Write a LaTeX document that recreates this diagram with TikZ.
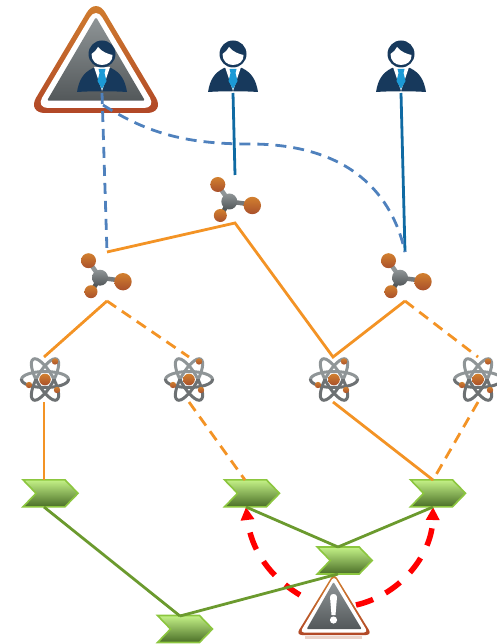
\documentclass[tikz,border=0pt]{standalone}
\usetikzlibrary{shapes.symbols,arrows.meta}
\definecolor{navy}{HTML}{17395C}
\definecolor{tieblue}{HTML}{1C9AD6}
\definecolor{linkblue}{HTML}{0F6AA3}
\definecolor{dashblue}{HTML}{4F81BD}
\definecolor{amber}{HTML}{F39325}
\definecolor{leaf}{HTML}{6B9A2E}
\definecolor{leafedge}{HTML}{8CC63F}
\definecolor{leaftop}{HTML}{C4F287}
\definecolor{leaflow}{HTML}{4A6E27}
\definecolor{ballhi}{HTML}{D2802F}
\definecolor{balllo}{HTML}{A9502B}
\definecolor{greyhi}{HTML}{8F9597}
\definecolor{greylo}{HTML}{53585A}
\tikzset{
  chev/.style={shape=signal,signal to=east,signal from=west,signal pointer angle=92,
    minimum width=55pt,minimum height=27pt,inner sep=0pt,draw=leafedge,line width=1.6pt,
    top color=leaftop,bottom color=leaflow},
  wire/.style={line width=2.8pt},
  amberline/.style={wire,amber},
  amberdash/.style={wire,amber,dash pattern=on 11pt off 7pt},
  bluedash/.style={wire,dashblue,dash pattern=on 11pt off 7pt},
  blueline/.style={wire,linkblue},
  leafline/.style={wire,leaf},
  redarrow/.style={red,line width=5.5pt,dash pattern=on 18pt off 14pt,-{Triangle[length=13pt,width=13pt]}},
  ball/.style={top color=ballhi,bottom color=balllo,draw=none},
  personicon/.pic={
    \fill[navy] (-25,-1) .. controls (-23,-13) and (-19,-20) .. (-9,-25) -- (9,-25)
       .. controls (19,-20) and (23,-13) .. (25,-1) .. controls (10,-2) and (-10,-2) .. (-25,-1) -- cycle;
    \fill[white] (-8,-26) -- (0,-2) -- (8,-26) -- cycle;
    \fill[tieblue] (-3.5,-24) -- (3.5,-24) -- (2.5,-20) -- (4.5,-12) -- (0,-4) -- (-4.5,-12) -- (-2.5,-20) -- cycle;
    \fill[navy] (0,-39) circle[radius=13.5];
    \fill[white] (-10.5,-39) .. controls (-8,-41) and (-5,-43) .. (-4,-46)
       .. controls (0,-41) and (6,-39) .. (10.5,-38)
       .. controls (11,-32) and (6,-28) .. (0,-28) .. controls (-6,-28) and (-10.5,-32) .. (-10.5,-39) -- cycle;
  },
  hubicon/.pic={
    \draw[line width=4.5pt,greyhi] (0,0) -- (-11,-16);
    \draw[line width=4.5pt,greylo] (0,0) -- (-8,13);
    \draw[line width=4.5pt,greylo!80!white] (0,0) -- (22,3);
    \shade[top color=greyhi,bottom color=greylo] (0,0) circle[radius=8];
    \shade[ball] (-11.5,-17) circle[radius=7.5];
    \shade[ball] (23,4) circle[radius=8.7];
    \shade[ball] (-9,14) circle[radius=6.5];
  },
  atomicon/.pic={
    \begin{scope}
      \clip (-30,-30) rectangle (30,0);
      \foreach \a in {0,60,-60}
        \draw[greyhi,line width=3pt,rotate=\a] (0,0) circle[x radius=23.5,y radius=8];
    \end{scope}
    \begin{scope}
      \clip (-30,0) rectangle (30,30);
      \foreach \a in {0,60,-60}
        \draw[greylo!85!white,line width=3pt,rotate=\a] (0,0) circle[x radius=23.5,y radius=8];
    \end{scope}
    \shade[ball] (0,0) circle[radius=5.8];
    \shade[ball] (10,-18) circle[radius=3.2];
    \shade[ball] (-16,5.5) circle[radius=3.2];
    \shade[ball] (12,10.5) circle[radius=3.2];
  },
}
\begin{document}
\begin{tikzpicture}[x=1pt,y=-1pt]
\useasboundingbox (0,0) rectangle (497,644);
% anchor points
\coordinate (pa) at (102,93);
\coordinate (pb) at (233,93);
\coordinate (pc) at (401,93);
\coordinate (ca) at (103,105);
\coordinate (hbT) at (235,175);
\coordinate (hbB) at (235,223);
\coordinate (haT) at (107,252);
\coordinate (haB) at (107,301);
\coordinate (hcT) at (405,252);
\coordinate (hcB) at (405,301);
\coordinate (a1T) at (44,357);
\coordinate (a2T) at (189,357);
\coordinate (a3T) at (333,357);
\coordinate (a4T) at (478,357);
\coordinate (a1B) at (44,402);
\coordinate (a2B) at (189,402);
\coordinate (a3B) at (333,402);
\coordinate (a4B) at (478,402);
\coordinate (w2L) at (300,595);
\coordinate (w2R) at (356,605);
% chevrons
\node[chev] (c1) at (50.5,493.3) {};
\node[chev] (c2) at (252,493.3) {};
\node[chev] (c3) at (438,493.3) {};
\node[chev] (c4) at (344.7,560.5) {};
\node[chev] (c5) at (185,629) {};
\coordinate (c1T) at (44,480);
\coordinate (c1B) at (44,507);
\coordinate (c2T) at (245,480);
\coordinate (c2B) at (246,507);
\coordinate (c3T) at (433,480);
\coordinate (c3B) at (433,507);
\coordinate (c4T) at (338,547);
\coordinate (c4B) at (338,574);
\coordinate (c5T) at (180,616);
% blue connectors
\draw[blueline] (pb) -- (hbT);
\draw[blueline] (pc) -- (hcT);
% orange connectors
\draw[amberline,line join=miter] (haT) -- (hbB) -- (a3T) -- (hcB);
\draw[amberline] (haB) -- (a1T);
\draw[amberdash] (haB) -- (a2T);
\draw[amberdash] (hcB) -- (a4T);
\draw[amberline] (a1B) -- (c1T);
\draw[amberdash] (a2B) -- (c2T);
\draw[amberline] (a3B) -- (c3T);
\draw[amberdash] (a4B) -- (c3T);
% red arrows
\draw[redarrow] (w2L) .. controls (270,577) and (251,550) .. (c2B);
\draw[redarrow] (w2R) .. controls (400,595) and (432,555) .. (c3B);
% big warning triangle
\shade[top color=ballhi,bottom color=balllo!90!red,rounded corners=18pt]
  (96,-3) -- (165,113) -- (27,113) -- cycle;
\fill[white,rounded corners=12pt] (96,7) -- (156,108) -- (36,108) -- cycle;
\shade[top color=greyhi,bottom color=greylo,rounded corners=1.5pt]
  (96,17) -- (145,100.7) -- (47,100.7) -- cycle;
% people
\pic (p1) at (pa) {personicon};
\pic (p2) at (pb) {personicon};
\pic (p3) at (pc) {personicon};
% dashed blue connectors run over the triangle
\draw[bluedash] (pa) -- (haT);
\draw[bluedash] (ca) .. controls (150,135) and (190,144) .. (250,144)
   .. controls (340,144) and (390,185) .. (hcT);
% hubs
\pic (h1) at (229.3,201.5) {hubicon};
\pic (h2) at (100,277.7) {hubicon};
\pic (h3) at (400,277.7) {hubicon};
% atoms
\pic (a1) at (45,379.5) {atomicon};
\pic (a2) at (189,379.5) {atomicon};
\pic (a3) at (334,379.5) {atomicon};
\pic (a4) at (478,379.5) {atomicon};
% small warning triangle
\shade[top color=ballhi,bottom color=balllo!90!red,rounded corners=6pt]
  (334,573) -- (372,635) -- (296,635) -- cycle;
\fill[white,rounded corners=4pt] (334,576) -- (368,632.5) -- (300,632.5) -- cycle;
\shade[top color=greyhi,bottom color=greylo,rounded corners=1pt]
  (333.5,582) -- (361.7,629) -- (306.7,629) -- cycle;
\fill[white] (330,597) .. controls (330,593) and (337,593) .. (337,597) -- (335.5,615) -- (331.5,615) -- cycle;
\fill[white] (333.5,620) circle[radius=3.6];
\fill[balllo!25!white] (305,636) rectangle (362,638.5);
% green connectors
\draw[leafline] (c1B) -- (c5T);
\draw[leafline] (c5T) -- (c4B);
\draw[leafline] (c2B) -- (c4T);
\draw[leafline] (c3B) -- (c4T);
\end{tikzpicture}
\end{document}
